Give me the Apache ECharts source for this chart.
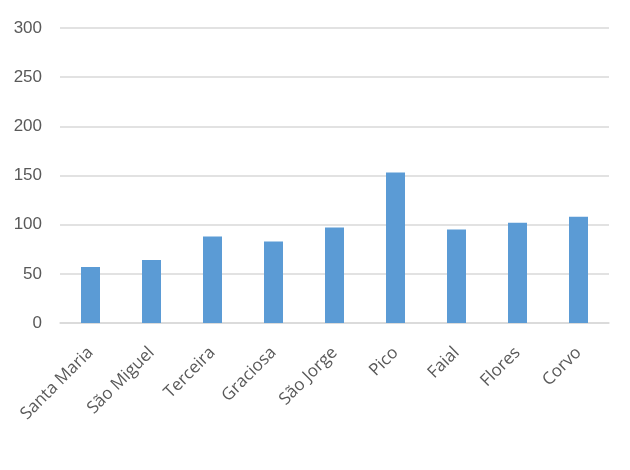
<!DOCTYPE html>
<html><head><meta charset="utf-8">
<script src="https://cdn.jsdelivr.net/npm/echarts@6/dist/echarts.min.js"></script>
<style>html,body{margin:0;padding:0;background:#fff}#c{width:630px;height:470px}</style>
</head><body><div id="c"></div>
<script>
const categories = ["Santa Maria","São Miguel","Terceira","Graciosa","São Jorge","Pico","Faial","Flores","Corvo"];
const values = [57, 64, 88, 83, 97, 153, 95, 102, 108];
const yTicks = [0, 50, 100, 150, 200, 250, 300];

const chart = echarts.init(document.getElementById('c'), null, {renderer:'canvas'});
chart.setOption({
  animation:false,
  backgroundColor:'#ffffff',
  grid:{left:60, right:21, top:28, bottom:147, containLabel:false},
  xAxis:{
    type:'category', data:categories,
    axisLine:{lineStyle:{color:'#d9d9d9', width:1.5}},
    axisTick:{show:false},
    axisLabel:{rotate:45, color:'#595959', fontSize:17, fontFamily:'Open Sans', margin:27, interval:0}
  },
  yAxis:{
    type:'value', min:yTicks[0], max:yTicks[yTicks.length-1], interval:50,
    axisLine:{show:false}, axisTick:{show:false},
    splitLine:{lineStyle:{color:'#d9d9d9', width:1.5}},
    axisLabel:{color:'#595959', fontSize:17, fontFamily:'Liberation Sans', margin:18}
  },
  series:[{type:'bar', data:values, barWidth:19, itemStyle:{color:'#5b9bd5'}}]
});
</script></body></html>
